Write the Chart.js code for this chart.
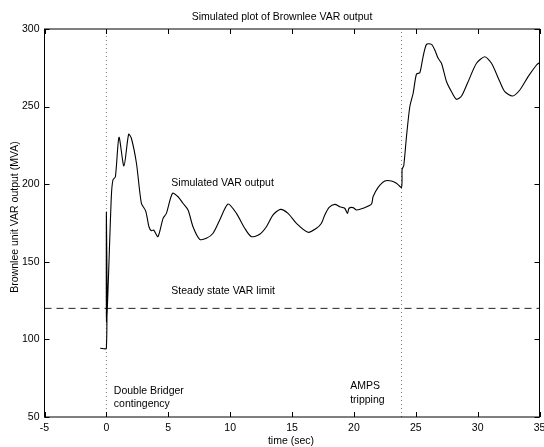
<!DOCTYPE html>
<html>
<head>
<meta charset="utf-8">
<script src="https://cdn.jsdelivr.net/npm/chart.js@4"></script>
<style>
  html, body { margin: 0; padding: 0; background: #fff; }
  #wrap { width: 544px; height: 447px; }
</style>
</head>
<body>
<div id="wrap"><canvas id="chart" width="544" height="447"></canvas></div>
<script>
// time (sec) and simulated VAR output (MVA)
const timeSec = [-0.5, 0, 0, 0.02, 0.4, 0.53, 0.73, 1.02, 1.42, 1.8, 2.02, 2.43, 2.83, 3.18, 3.44, 3.64,
  3.82, 4.17, 4.58, 4.85, 5.34, 5.79, 6.19, 6.6, 7.0, 7.54, 8.08, 8.62, 9.16, 9.83, 10.51, 11.18,
  11.72, 12.39, 12.93, 13.47, 14.07, 14.68, 15.36, 16.3, 16.98, 17.38, 17.65, 18.0, 18.46, 18.86,
  19.26, 19.48, 19.61, 19.94, 20.21, 20.74, 21.42, 21.55, 21.96, 22.5, 23.04, 23.44, 23.85, 23.9,
  24.03, 24.25, 24.52, 24.79, 25.06, 25.33, 25.59, 25.87, 26.27, 26.54, 26.81, 27.08, 27.49, 27.89,
  28.29, 28.7, 29.23, 29.91, 30.58, 31.12, 31.8, 32.2, 32.82, 33.41, 34.08, 34.76, 35.0];
const varOutput = [94.3, 94.3, 182, 111, 192, 202.7, 204.8, 230.2, 211.7, 232.2, 229.6, 213.5, 187.7, 182.7, 172.6, 170.0,
  170.5, 166.2, 178.0, 181.2, 194.1, 191.9, 187.7, 183.4, 172.6, 164.5, 165.1, 168.4, 176.9, 187.2, 181.2, 171.6,
  166.2, 167.7, 172.6, 180.2, 183.8, 181.2, 174.8, 169.0, 171.6, 174.8, 180.2, 185.1, 187.0, 185.5,
  184.5, 181.2, 184.5, 184.9, 183.4, 184.5, 187.2, 191.9, 198.0, 202.1, 202.1, 200.6, 198.0, 209.8,
  211.9, 230.6, 249.9, 258.6, 271.0, 271.8, 282.1, 290.1, 290.1, 286.5, 281.1, 277.9, 266.0, 259.6,
  254.7, 256.8, 266.0, 277.9, 282.1, 277.9, 266.0, 259.6, 256.8, 260.7, 269.3, 276.8, 278.3];

const varLimit = 120;
const eventTimes = [0, 23.85];
const xTicks = [-5, 0, 5, 10, 15, 20, 25, 30, 35];
const yTicks = [50, 100, 150, 200, 250, 300];

// annotation texts: [x, y, text]
const notes = [
  [5.25, 201, 'Simulated VAR output'],
  [5.25, 131, 'Steady state VAR limit'],
  [0.6, 67, 'Double Bridger'],
  [0.6, 58.5, 'contingency'],
  [19.7, 70, 'AMPS'],
  [19.7, 61, 'tripping']
];

const FONT = '"Liberation Sans", Arial, sans-serif';
const FSIZE = 10.5;

const curve = timeSec.map((t, i) => ({ x: t, y: varOutput[i] }));
const limitLine = [{ x: -5, y: varLimit }, { x: 35, y: varLimit }];

const matlabAxes = {
  id: 'matlabAxes',
  afterDraw(chart) {
    const { ctx, chartArea: a, scales } = chart;
    const xs = scales.x, ys = scales.y;
    ctx.save();
    ctx.strokeStyle = '#000';
    ctx.lineWidth = 1;
    ctx.strokeRect(a.left, a.top, a.right - a.left, a.bottom - a.top);
    ctx.beginPath();
    xTicks.forEach(v => {
      const px = Math.round(xs.getPixelForValue(v)) + 0.5;
      ctx.moveTo(px, a.bottom); ctx.lineTo(px, a.bottom - 5);
      ctx.moveTo(px, a.top); ctx.lineTo(px, a.top + 5);
    });
    yTicks.forEach(v => {
      const py = Math.round(ys.getPixelForValue(v)) + 0.5;
      ctx.moveTo(a.left, py); ctx.lineTo(a.left + 5, py);
      ctx.moveTo(a.right, py); ctx.lineTo(a.right - 5, py);
    });
    ctx.stroke();

    ctx.fillStyle = '#000';
    ctx.font = FSIZE + 'px ' + FONT;
    ctx.textBaseline = 'middle';
    ctx.textAlign = 'left';
    notes.forEach(([x, y, t]) => {
      ctx.fillText(t, xs.getPixelForValue(x), ys.getPixelForValue(y));
    });

    ctx.textAlign = 'center';
    ctx.fillText('Simulated plot of Brownlee VAR output', 282, 17);
    ctx.fillText('time (sec)', 291, 441);
    ctx.translate(15, 217);
    ctx.rotate(-Math.PI / 2);
    ctx.fillText('Brownlee unit VAR output (MVA)', 0, 0);
    ctx.restore();
  }
};

new Chart(document.getElementById('chart'), {
  type: 'line',
  data: {
    datasets: [
      {
        data: curve,
        borderColor: '#000',
        borderWidth: 1.1,
        pointRadius: 0,
        tension: 0.25,
        order: 0
      },
      {
        data: limitLine,
        borderColor: '#222',
        borderWidth: 1,
        borderDash: [7, 5],
        pointRadius: 0,
        order: 1
      },
      ...eventTimes.map(t => ({
        data: [{ x: t, y: 50 }, { x: t, y: 300 }],
        borderColor: '#777',
        borderWidth: 1,
        borderDash: [1, 3],
        pointRadius: 0,
        order: 2
      }))
    ]
  },
  options: {
    responsive: false,
    animation: false,
    layout: { padding: { top: 29, right: 4.5, left: 0, bottom: 0 } },
    plugins: { legend: { display: false }, tooltip: { enabled: false }, title: { display: false } },
    scales: {
      x: {
        type: 'linear',
        min: -5, max: 35,
        afterFit: s => { s.height = 30; s.paddingLeft = 0; s.paddingRight = 0; },
        afterBuildTicks: s => { s.ticks = xTicks.map(v => ({ value: v })); },
        grid: { display: false, drawTicks: false },
        border: { display: false },
        ticks: { color: '#000', font: { family: FONT, size: FSIZE }, padding: 5, maxRotation: 0 }
      },
      y: {
        type: 'linear',
        min: 50, max: 300,
        afterFit: s => { s.width = 44.5; s.paddingTop = 0; s.paddingBottom = 0; },
        afterBuildTicks: s => { s.ticks = yTicks.map(v => ({ value: v })); },
        grid: { display: false, drawTicks: false },
        border: { display: false },
        ticks: { color: '#000', font: { family: FONT, size: FSIZE }, padding: 5 }
      }
    }
  },
  plugins: [matlabAxes]
});
</script>
</body>
</html>
